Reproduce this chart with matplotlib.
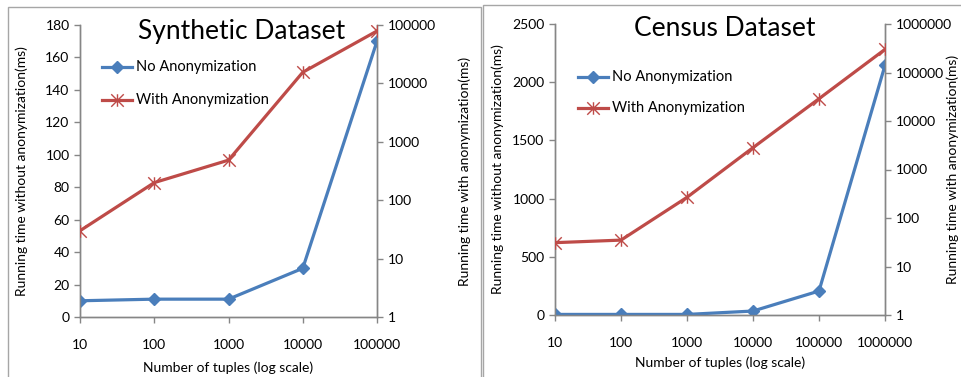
import matplotlib
matplotlib.use('Agg')
import matplotlib.pyplot as plt
from matplotlib.patches import Rectangle
from matplotlib.path import Path
import numpy as np

plt.rcParams['font.family'] = ['Lato', 'DejaVu Sans']

# Synthetic dataset
syn_labels = ['10', '100', '1000', '10000', '100000']
syn_plain = [10, 11, 11, 30, 170]
syn_anon = [30, 200, 485, 15500, 79000]

# Census dataset
cen_labels = ['10', '100', '1000', '10000', '100000', '1000000']
cen_plain = [5, 5, 5, 34, 206, 2145]
cen_anon = [31, 35, 267, 2820, 28800, 300000]

BLUE = '#4A7EBB'
RED = '#BE4B48'
GRAY = '#868686'
W, H = 961, 377

# Excel style star marker: an x with a vertical bar
STAR = Path([(-1, -1), (1, 1), (-1, 1), (1, -1), (0, -1), (0, 1)],
            [Path.MOVETO, Path.LINETO] * 3)


def px(x0, y0, x1, y1):
    return [x0 / W, 1 - y1 / H, (x1 - x0) / W, (y1 - y0) / H]


def panel(fig, rect, labels, plain, anon, ymax, ystep, logmax, title, tpos,
          legpos, ylab_x, rlab_x, xlab_y):
    ax = fig.add_axes(rect)
    x = np.arange(len(labels))
    ax.plot(x, plain, color=BLUE, lw=2.3, marker='D', ms=6.5,
            label='No Anonymization', zorder=3)
    ax.set_xlim(0, len(labels) - 1)
    ax.set_ylim(0, ymax)
    ax.set_yticks(np.arange(0, ymax + 1, ystep))
    ax.set_xticks(x)
    ax.set_xticklabels(labels)
    ax2 = ax.twinx()
    ax2.plot(x, anon, color=RED, lw=2.3, marker=STAR, ms=9, mew=1.0,
             label='With Anonymization', zorder=3)
    ax2.set_yscale('log')
    ax2.set_ylim(1, logmax)
    ticks = [10 ** i for i in range(int(np.log10(logmax)) + 1)]
    ax2.set_yticks(ticks)
    ax2.set_yticklabels([str(t) for t in ticks])
    ax2.minorticks_off()
    for a in (ax, ax2):
        for s in a.spines.values():
            s.set_color(GRAY)
            s.set_linewidth(1.0)
        a.spines['top'].set_visible(False)
        a.tick_params(colors=GRAY, labelcolor='black', labelsize=10,
                      length=4, width=1.0)
    ax.tick_params(axis='x', pad=12)
    ax2.set_xlim(0, len(labels) - 1)

    mid = rect[1] + rect[3] / 2
    fig.text(tpos[0] / W, 1 - tpos[1] / H, title, fontsize=19,
             ha='center', va='center')
    fig.text(ylab_x / W, mid, 'Running time without anonymization(ms)',
             rotation=90, fontsize=10, ha='center', va='center')
    fig.text(rlab_x / W, mid, 'Running time with anonymization(ms)',
             rotation=90, fontsize=10, ha='center', va='center')
    fig.text(rect[0] + rect[2] / 2, 1 - xlab_y / H,
             'Number of tuples (log scale)',
             fontsize=10, ha='center', va='center')

    # legend drawn by hand, Excel style
    lx0, lx1, ly0, ly1 = legpos
    for y, line, lbl in ((ly0, ax.lines[0], 'No Anonymization'),
                         (ly1, ax2.lines[0], 'With Anonymization')):
        yy = 1 - y / H
        fig.add_artist(plt.Line2D([lx0 / W, lx1 / W], [yy, yy],
                                  color=line.get_color(), lw=2.3,
                                  transform=fig.transFigure))
        fig.add_artist(plt.Line2D([(lx0 + lx1) / 2 / W], [yy],
                                  color=line.get_color(),
                                  marker=line.get_marker(),
                                  ms=line.get_markersize(), mew=1.0,
                                  transform=fig.transFigure))
        fig.text((lx1 + 4) / W, yy, lbl, fontsize=10.5, va='center')
    return ax, ax2


fig = plt.figure(figsize=(W / 100, H / 100), dpi=100)

# panel frames
fig.add_artist(Rectangle((8 / W, -0.1), 473 / W, 1.1 - 7 / H, fill=False,
                         edgecolor='#A6A6A6', lw=1, transform=fig.transFigure))
fig.add_artist(Rectangle((483 / W, -0.1), 1, 1.1 - 5 / H, fill=False,
                         edgecolor='#A6A6A6', lw=1, transform=fig.transFigure))

panel(fig, px(80, 25, 377, 317), syn_labels, syn_plain, syn_anon, 180, 20,
      1e5, 'Synthetic Dataset', (242, 32), (102, 132, 67, 100), 22, 465, 368)
panel(fig, px(555, 24, 885, 315), cen_labels, cen_plain, cen_anon, 2500, 500,
      1e6, 'Census Dataset', (725, 28), (578, 608, 77, 108), 498, 953, 363)

fig.savefig('out.png', dpi=100)
